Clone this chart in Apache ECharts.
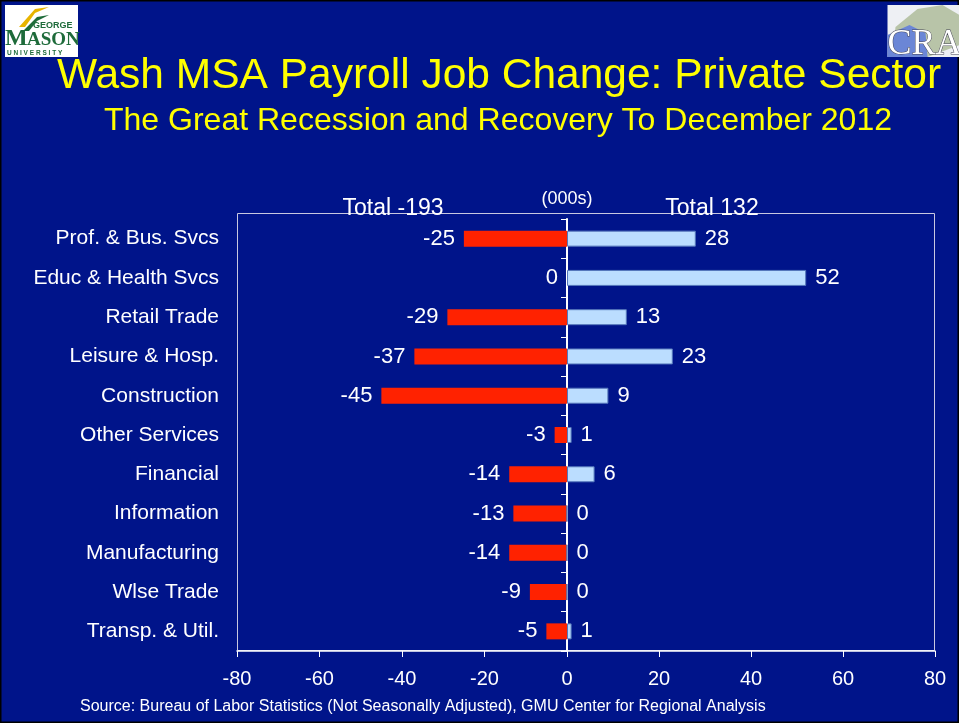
<!DOCTYPE html>
<html><head><meta charset="utf-8">
<script src="https://cdn.jsdelivr.net/npm/echarts@6/dist/echarts.min.js"></script>
<style>html,body{margin:0;padding:0;background:#00148A;}#c{width:959px;height:723px;}</style>
</head><body><div id="c"></div>
<script>
const categories = ['Prof. & Bus. Svcs','Educ & Health Svcs','Retail Trade','Leisure & Hosp.','Construction','Other Services','Financial','Information','Manufacturing','Wlse Trade','Transp. & Util.'];
const losses = [-25,0,-29,-37,-45,-3,-14,-13,-14,-9,-5];
const gains = [28,52,13,23,9,1,6,0,0,0,1];
const totalLoss = 'Total -193';
const totalGain = 'Total 132';
const unitText = '(000s)';
const titleText = 'Wash MSA Payroll Job Change: Private Sector';
const subtitleText = 'The Great Recession and Recovery To December 2012';
const sourceText = 'Source: Bureau of Labor Statistics (Not Seasonally Adjusted), GMU Center for Regional Analysis';

const FONT = '"Liberation Sans", Arial, sans-serif';
const chart = echarts.init(document.getElementById('c'));
const labelStyle = {color:'#fff', fontSize:22, fontFamily:FONT};
chart.setOption({
  backgroundColor:'#00148A',
  animation:false,
  title:[
    {text:titleText, left:499, textAlign:'center', top:55, padding:0, textStyle:{color:'#FFFF00', fontSize:42.5, fontWeight:'normal', fontFamily:FONT}},
    {text:subtitleText, left:498, textAlign:'center', top:105, padding:0, textStyle:{color:'#FFFF00', fontSize:32, fontWeight:'normal', fontFamily:FONT}},
    {text:totalLoss, left:393, textAlign:'center', top:197, padding:0, textStyle:{color:'#fff', fontSize:23, fontWeight:'normal', fontFamily:FONT}},
    {text:unitText, left:567, textAlign:'center', top:190, padding:0, textStyle:{color:'#fff', fontSize:18, fontWeight:'normal', fontFamily:FONT}},
    {text:totalGain, left:712, textAlign:'center', top:197, padding:0, textStyle:{color:'#fff', fontSize:23, fontWeight:'normal', fontFamily:FONT}},
    {text:sourceText, left:80, top:699, padding:0, textStyle:{color:'#fff', fontSize:16, fontWeight:'normal', fontFamily:FONT}}
  ],
  grid:[
    {left:237, width:330, top:219, height:432},
    {left:567, width:368, top:219, height:432}
  ],
  xAxis:[
    {gridIndex:0, type:'value', min:-80, max:0, interval:20,
     axisLine:{show:true, lineStyle:{color:'#fff', width:1.5}},
     axisTick:{show:true, length:6, lineStyle:{color:'#fff'}},
     splitLine:{show:false},
     axisLabel:{color:'#fff', fontSize:20, fontFamily:FONT, margin:18}},
    {gridIndex:1, type:'value', min:0, max:80, interval:20,
     axisLine:{show:true, lineStyle:{color:'#fff', width:1.5}},
     axisTick:{show:true, length:6, lineStyle:{color:'#fff'}},
     splitLine:{show:false},
     axisLabel:{color:'#fff', fontSize:20, fontFamily:FONT, margin:18, showMinLabel:false}}
  ],
  yAxis:[
    {gridIndex:0, type:'category', data:categories, inverse:true,
     axisLine:{show:false}, axisTick:{show:false},
     axisLabel:{color:'#fff', fontSize:21, fontFamily:FONT, margin:18}},
    {gridIndex:1, type:'category', data:categories, inverse:true, position:'left',
     axisLine:{show:true, lineStyle:{color:'#fff', width:2}},
     axisTick:{show:true, length:6, lineStyle:{color:'#fff'}},
     axisLabel:{show:false}}
  ],
  series:[
    {type:'bar', xAxisIndex:0, yAxisIndex:0, data:losses, barWidth:16,
     itemStyle:{color:'#FF2200'},
     label:{show:true, position:'left', distance:9, ...labelStyle}},
    {type:'bar', xAxisIndex:1, yAxisIndex:1, data:gains, barWidth:16,
     itemStyle:{color:'#BBDDFF', borderColor:'#5577BB', borderWidth:1},
     label:{show:true, position:'right', distance:9, ...labelStyle}}
  ],
  graphic:[
    {type:'rect', z:-1, shape:{x:237.5,y:213.5,width:697,height:437}, style:{fill:'none', stroke:'#C8C8E0', lineWidth:1}, silent:true},
    {type:'rect', shape:{x:0.5,y:0.5,width:958,height:722}, style:{fill:'none', stroke:'#000', lineWidth:2}, silent:true},
    {type:'group', left:5, top:5, children:[
      {type:'rect', shape:{x:0,y:0,width:73,height:52}, style:{fill:'#fff'}},
      {type:'polygon', shape:{points:[[14,22],[30,4],[44,2],[30,8],[20,22]]}, style:{fill:'#E8B400'}},
      {type:'polygon', shape:{points:[[18,26],[32,12],[44,10],[32,16],[24,26]]}, style:{fill:'#1E6B3A'}},
      {type:'text', style:{x:28, y:16, text:'GEORGE', fill:'#1E6B3A', font:'bold 9px '+FONT}},
      {type:'text', style:{x:0, y:22, text:'M', fill:'#1E6B3A', font:'bold 24px "Liberation Serif", serif'}},
      {type:'text', style:{x:22, y:26, text:'ASON', fill:'#1E6B3A', font:'bold 19px "Liberation Serif", serif'}},
      {type:'text', style:{x:2, y:45, text:'U N I V E R S I T Y', fill:'#1E6B3A', font:'bold 6.5px '+FONT}}
    ]},
    {type:'group', left:887, top:5, children:[
      {type:'rect', shape:{x:0,y:0,width:72,height:52}, style:{fill:'#EEF0F4'}},
      {type:'polygon', shape:{points:[[8,22],[30,4],[55,0],[72,10],[72,40],[40,52],[5,52]]}, style:{fill:'#B8C4A8'}},
      {type:'polygon', shape:{points:[[0,30],[22,20],[38,28],[40,52],[0,52]]}, style:{fill:'#6B86D6'}},
      {type:'text', style:{x:0, y:22, text:'CRA', fill:'#fff', stroke:'#445', lineWidth:1, font:'36px "Liberation Serif", serif'}}
    ]}
  ]
});
</script></body></html>
